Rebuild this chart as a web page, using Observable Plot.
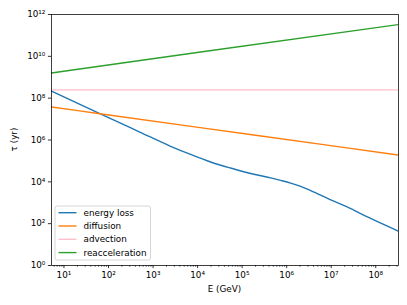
<!DOCTYPE html>
<html><head><meta charset="utf-8">
<script src="https://cdn.jsdelivr.net/npm/d3@7"></script>
<script src="https://cdn.jsdelivr.net/npm/@observablehq/plot@0.6"></script>
<style>body{margin:0;background:#fff;} #chart{position:relative;width:407px;height:305px;}</style>
</head><body><div id="chart"></div>
<script>
const seriesNames = ["energy loss", "diffusion", "advection", "reacceleration"];
const seriesColors = ["#1f77b4", "#ff7f0e", "#ffc0cb", "#2ca02c"];

const energyLossE = [5.25, 63.8, 501, 2480, 6980, 1.96e4, 5.52e4, 1.56e5, 4.38e5, 7.35e5, 1.23e6, 2.07e6, 3.47e6, 9.77e6, 2.75e7, 6.52e7, 3.24e8];
const energyLossT = [2.2e8, 1.82e7, 2.4e6, 5.01e5, 2.04e5, 8.91e4, 4.57e4, 2.51e4, 1.55e4, 1.175e4, 8710, 6030, 3800, 1360, 525, 209, 43.7];

const diffusionE = [5.25, 63.8, 1.14e4, 9.77e6, 3.24e8];
const diffusionT = [3.78e7, 1.81e7, 3.92e6, 5.36e5, 1.9e5];

const advectionE = [5.25, 3.24e8];
const advectionT = [2.5e8, 2.5e8];

const reaccelE = [5.25, 1.17e4, 3.24e8];
const reaccelT = [1.6e9, 1.6e10, 3.31e11];

const xDomain = [5.25, 3.24e8];
const yDomain = [1, 1e12];
const xMajorTicks = [1e1, 1e2, 1e3, 1e4, 1e5, 1e6, 1e7, 1e8];
const yMajorTicks = [1e0, 1e2, 1e4, 1e6, 1e8, 1e10, 1e12];
const minorMultipliers = [2, 3, 4, 5, 6, 7, 8, 9];

const xLabel = "E (GeV)";
const yLabel = "τ (yr)";

const supMap = {"0":"⁰","1":"¹","2":"²","3":"³","4":"⁴","5":"⁵","6":"⁶","7":"⁷","8":"⁸","9":"⁹","-":"⁻"};
const fmt = d => "10" + String(Math.round(Math.log10(d))).split("").map(c => supMap[c]).join("");

const rows = (name, E, T) => E.map((e, i) => ({series: name, E: e, T: T[i]}));
const data = [
  ...rows(seriesNames[0], energyLossE, energyLossT),
  ...rows(seriesNames[1], diffusionE, diffusionT),
  ...rows(seriesNames[2], advectionE, advectionT),
  ...rows(seriesNames[3], reaccelE, reaccelT)
];

const xMinorTicks = [1e0, ...xMajorTicks].flatMap(m => minorMultipliers.map(k => k * m))
  .filter(v => v >= xDomain[0] && v <= xDomain[1]);

const plot = Plot.plot({
  width: 407, height: 305,
  marginLeft: 51, marginRight: 9, marginTop: 14, marginBottom: 40,
  style: {fontFamily: "DejaVu Sans", fontSize: "8.8px", background: "#fff", color: "#000"},
  x: {type: "log", domain: xDomain},
  y: {type: "log", domain: yDomain},
  color: {domain: seriesNames, range: seriesColors},
  marks: [
    Plot.line(data, {x: "E", y: "T", z: "series", stroke: "series", strokeWidth: 1.4, curve: "monotone-x", clip: true}),
    Plot.axisX({ticks: xMinorTicks, tickSize: 1.8, tickFormat: () => "", label: null, strokeWidth: 0.6}),
    Plot.axisX({ticks: xMajorTicks, tickSize: 3.1, tickPadding: 3, tickFormat: fmt, label: null, strokeWidth: 0.8, fontSize: 8.8}),
    Plot.axisY({ticks: yMajorTicks, tickSize: 3.1, tickPadding: 3, tickFormat: fmt, label: null, strokeWidth: 0.8, fontSize: 8.8}),
    Plot.frame({stroke: "#000", strokeWidth: 0.75})
  ]
});
document.getElementById("chart").appendChild(plot);

const svg = d3.select(plot);
const xs = plot.scale("x"), ys = plot.scale("y");
const pLeft = xs.range[0], pRight = xs.range[1];
const pTop = ys.range[1], pBottom = ys.range[0];

svg.append("text").attr("x", (pLeft + pRight) / 2).attr("y", pBottom + 26.5)
  .attr("text-anchor", "middle").attr("font-size", 8.8).attr("fill", "#000").text(xLabel);
svg.append("text").attr("transform", `translate(17,${(pTop + pBottom) / 2}) rotate(-90)`)
  .attr("text-anchor", "middle").attr("font-size", 8.8).attr("fill", "#000").text(yLabel);

const lg = svg.append("g").attr("transform", `translate(${pLeft + 4},${pBottom - 59})`);
lg.append("rect").attr("x", 0).attr("y", 0).attr("width", 95.5).attr("height", 54)
  .attr("rx", 2).attr("fill", "#fff").attr("fill-opacity", 0.8).attr("stroke", "#cccccc").attr("stroke-width", 0.8);
seriesNames.forEach((name, i) => {
  const yy = 6.7 + i * 13.3;
  lg.append("line").attr("x1", 3.5).attr("x2", 21.5).attr("y1", yy).attr("y2", yy)
    .attr("stroke", seriesColors[i]).attr("stroke-width", 1.4);
  lg.append("text").attr("x", 28.5).attr("y", yy + 3.1).attr("text-anchor", "start")
    .attr("font-size", 8.8).attr("fill", "#000").text(name);
});
</script>
</body></html>
